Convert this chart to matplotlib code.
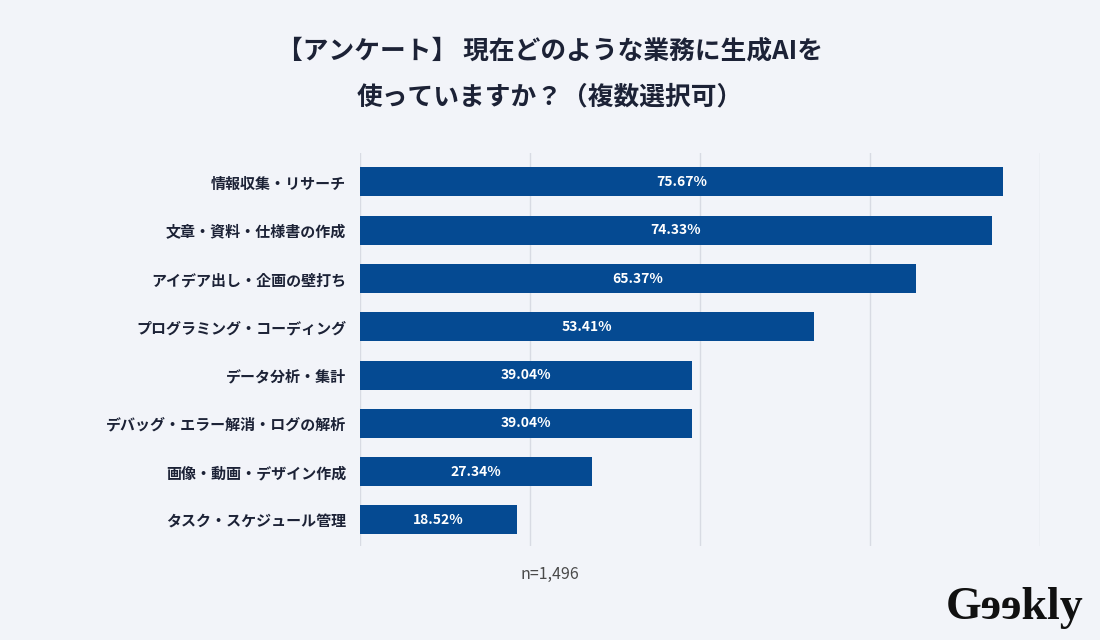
import matplotlib
matplotlib.use("Agg")
import matplotlib.pyplot as plt

plt.rcParams['font.family'] = ['Noto Sans CJK JP', 'DejaVu Sans']

# Daten
categories = [
    "情報収集・リサーチ",
    "文章・資料・仕様書の作成",
    "アイデア出し・企画の壁打ち",
    "プログラミング・コーディング",
    "データ分析・集計",
    "デバッグ・エラー解消・ログの解析",
    "画像・動画・デザイン作成",
    "タスク・スケジュール管理",
]
values = [75.67, 74.33, 65.37, 53.41, 39.04, 39.04, 27.34, 18.52]
grid_ticks = [0, 20, 40, 60, 80]

bg = "#f2f4f9"
bar_color = "#054a92"
text_color = "#1c2236"

fig = plt.figure(figsize=(11, 6.4), dpi=100, facecolor=bg)
ax = fig.add_axes([360 / 1100, 1 - 546 / 640, 680 / 1100, 393 / 640])
ax.set_facecolor(bg)

y = list(range(len(categories)))
ax.barh(y, values, height=0.6, color=bar_color, zorder=3)
for yi, v in zip(y, values):
    ax.text(v / 2, yi, f"{v:.2f}%", ha="center", va="center", color="white",
            fontsize=10, fontweight="bold", zorder=4)

ax.set_xlim(0, 80)
ax.set_ylim(len(categories) - 0.46, -0.6)
ax.set_xticks(grid_ticks)
ax.set_xticklabels([])
ax.set_yticks(y)
ax.set_yticklabels(categories, fontsize=10.8, fontweight="bold", color=text_color)
ax.tick_params(axis="both", length=0, pad=10)
ax.grid(axis="x", color="#d8dbe3", linewidth=1, zorder=0)
for s in ax.spines.values():
    s.set_visible(False)

fig.text(0.5, 1 - 51 / 640, "【アンケート】 現在どのような業務に生成AIを", ha="center", va="center",
         fontsize=18.5, fontweight="bold", color=text_color)
fig.text(0.5, 1 - 97 / 640, "使っていますか？（複数選択可）", ha="center", va="center",
         fontsize=18.5, fontweight="bold", color=text_color)

fig.text(550 / 1100, 1 - 574 / 640, "n=1,496", ha="center", va="center",
         fontsize=11.5, color="#4a4a4a")

fig.text(1015 / 1100, 1 - 608 / 640, "Gɘɘkly", ha="center", va="center",
         fontsize=33, fontweight="bold", color="#111111",
         family=["Liberation Serif", "DejaVu Serif"])

fig.savefig("out.png", dpi=100, facecolor=bg)
